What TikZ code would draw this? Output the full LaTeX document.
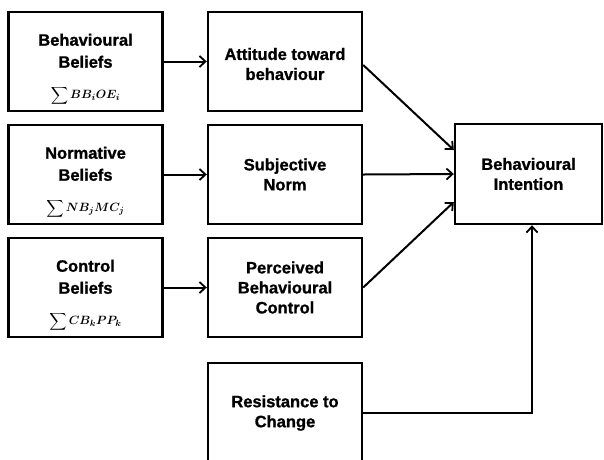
\documentclass[tikz,border=0pt]{standalone}
\usepackage{fontspec}
\usepackage{amsmath}
\usepackage{bm}
\setmainfont[BoldFeatures={FakeBold=1}]{Liberation Sans}
\usetikzlibrary{arrows.meta}
\newcommand{\formula}[1]{{\normalfont\fontsize{13}{14}\selectfont$\displaystyle\sum \bm{#1}$}}
\begin{document}
\begin{tikzpicture}[x=1pt,y=-1pt,
  box/.style={draw=black,line width=2.4pt,fill=white,align=center,inner sep=0pt,
    minimum width=154pt,minimum height=99pt,
    font=\fontsize{16.5}{20}\selectfont\bfseries},
  conn/.style={line width=2pt,-{Straight Barb[length=6pt,width=11pt,line width=1.8pt]}}]
\clip (0,0) rectangle (604,459);
\fill[white] (0,0) rectangle (604,459);
\node[box] (bb) at (85.5,61.5) {\rule{0pt}{28pt}Behavioural\\[2pt]Beliefs\\[11pt]\formula{BB_iOE_i}};
\node[box] (att) at (285,61.5) {\rule{0pt}{17pt}Attitude toward\\behaviour};
\node[box] (nb) at (85.5,174.5) {\rule{0pt}{28pt}Normative\\[2pt]Beliefs\\[11pt]\formula{NB_jMC_j}};
\node[box] (sn) at (285,174.5) {Subjective\\Norm};
\node[box] (cb) at (85.5,287.5) {\rule{0pt}{28pt}Control\\[2pt]Beliefs\\[11pt]\formula{CB_kPP_k}};
\node[box] (pbc) at (285,287.5) {Perceived\\Behavioural\\Control};
\node[box,minimum height=100pt] (res) at (285,413) {Resistance to\\Change};
\node[box,minimum width=147pt,minimum height=100pt] (bi) at (528.5,174) {Behavioural\\Intention};
\draw[conn] (bb.east) -- (att.west);
\draw[conn] (nb.east) -- (sn.west);
\draw[conn] (cb.east) -- (pbc.west);
\draw[conn] ([yshift=-3.5pt]att.east) -- ([yshift=24pt]bi.west);
\draw[conn] (sn.east) -- (bi.west);
\draw[conn] (pbc.east) -- ([yshift=-28pt]bi.west);
\coordinate (bend) at ([xshift=3.5pt]bi.south |- res.east);
\draw[conn] (res.east) -- (bend) -- ([xshift=3.5pt]bi.south);
\end{tikzpicture}
\end{document}
